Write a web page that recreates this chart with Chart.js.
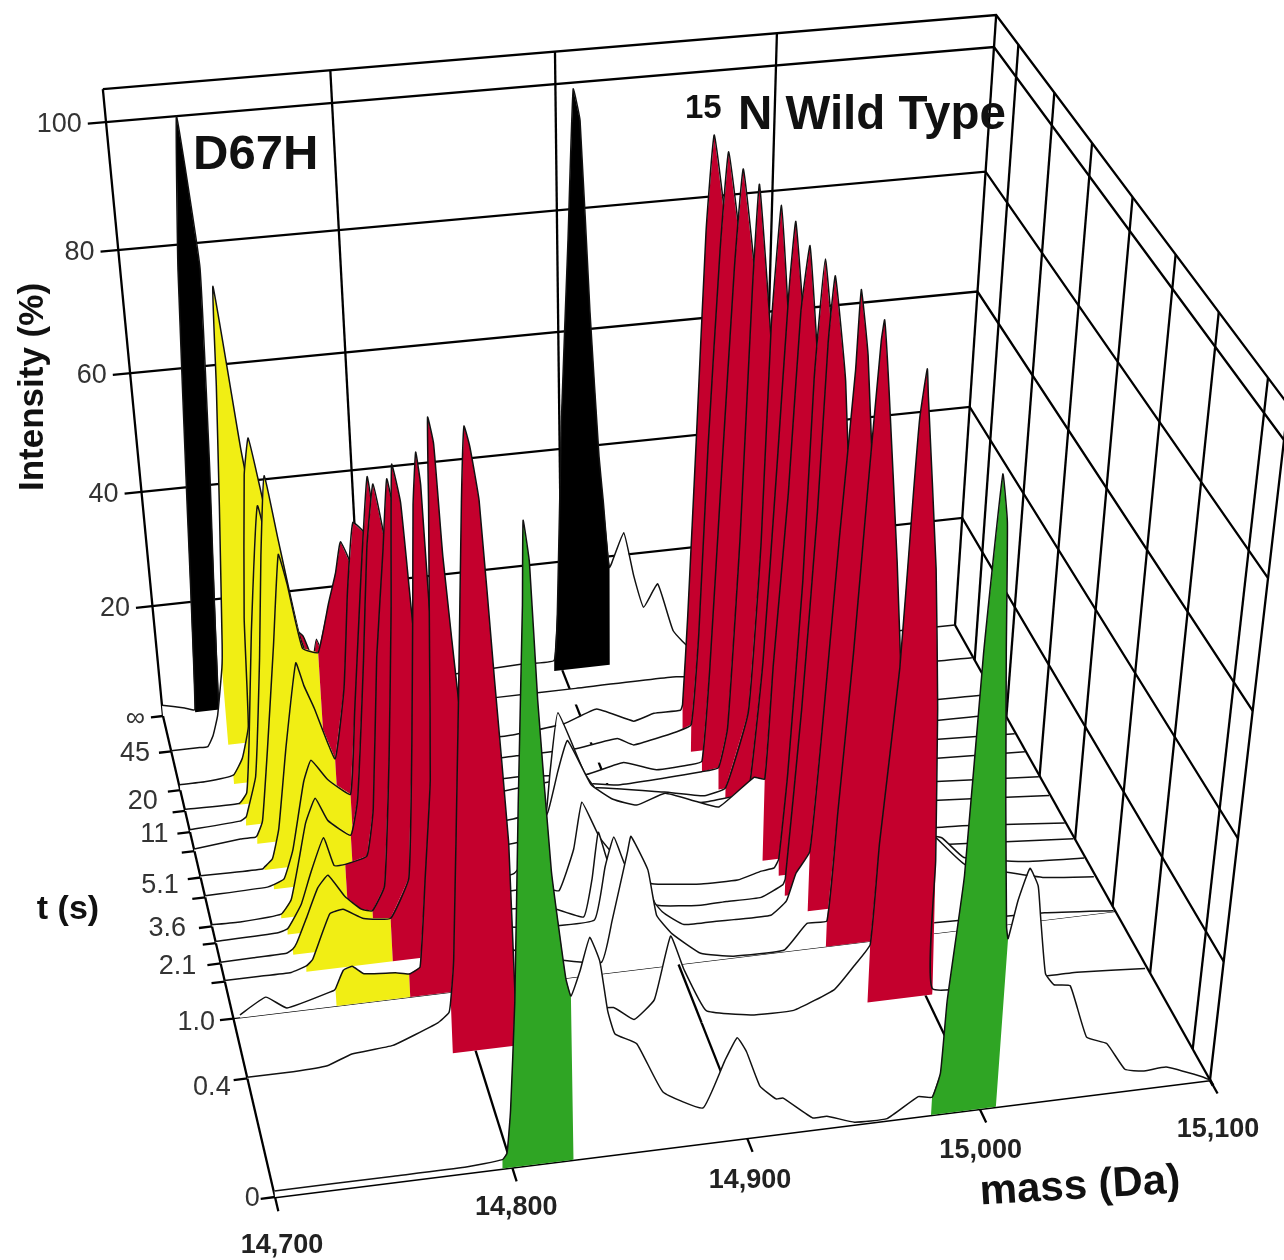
<!DOCTYPE html>
<html>
<head>
<meta charset="utf-8">
<title>D67H and 15N wild type</title>
<script src="https://cdn.jsdelivr.net/npm/chart.js@4/dist/chart.umd.min.js"></script>
<style>
  html, body { margin: 0; background: #fff; }
  canvas { display: block; }
</style>
</head>
<body>
<canvas id="myChart" width="1284" height="1260"></canvas>
<script>
// axis values
const massTicks = [14700, 14800, 14900, 15000, 15100];
const massLabels = ['14,700', '14,800', '14,900', '15,000', '15,100'];
const intensityTicks = [20, 40, 60, 80, 100];
const timeLabels = ['0', '0.4', '1.0', '', '2.1', '', '3.6', '', '5.1', '', '11', '', '20', '45', '∞'];
// position of every spectrum along the time axis, 0 = front, 1 = back
const traceDepth = [0, .216, .332, .406, .443, .485, .52, .582, .625, .683, .726, .774, .822, .914, 1];
const wallDepth = [.058, .206, .343, .487, .63, .77, .91];

// spectra as [mass, intensity], front to back
const trace0 = [[14700,1],[14750,1],[14780,1],[14796,1.5],[14798,2.5],[14800,9.5],[14803,27],[14806.5,58],[14810,87],[14811,99],[14813,93],[14815,73],[14819,47],[14824,30],[14826,27],[14830,31],[14834,36],[14838,32],[14841,24],[14844,20],[14853,18],[14864,9.5],[14881,6],[14890,13.5],[14895,17],[14899,14.5],[14905,8.5],[14912,6],[14915,6],[14928,2],[14934,2],[14946,.4],[14960,.3],[14973,3.4],[14979,3],[14982,7],[14983,19],[14987,39],[14989,73],[14992,99],[14995,92],[14998,73],[15002,50],[15006,30],[15007,28],[15010,34],[15014,39],[15018,36],[15020,31],[15024,21.5],[15028,19.5],[15035,19],[15044,10],[15053,8.5],[15062,3.7],[15070,3],[15080,3.2],[15096,.8],[15100,0]];
const trace1 = [[14700,.2],[14720,.2],[14735,.5],[14746,2],[14764,2.6],[14784,5.5],[14789,7],[14790,9],[14792,16],[14798,57],[14802,87],[14804,98],[14806,95],[14809,87],[14813,60],[14817,34],[14818,8],[14819,6],[14840,5],[14861,4.5],[14870,2],[14879,5],[14886,15.5],[14892,9.5],[14902,2],[14922,.3],[14941,.2],[14959,3],[14968,7],[14974,10],[14976,27],[14981,55],[14983,82],[14984,93],[14986,100],[14987,96],[14994,70],[14998,48],[15001,23],[15003,1],[15052,.8],[15068,.8],[15099,0]];
const trace2 = [[14703,.5],[14715,3],[14724,.7],[14745,2.7],[14746,3],[14750,6],[14754,6.5],[14759,5],[14773,4.5],[14779,4],[14784,5],[14788,20],[14792,36],[14794,57],[14796,79],[14797,92],[14799,88],[14801,71],[14806,45],[14812,22],[14820,8],[14830,5],[14865,2],[14870,9],[14877,20.5],[14878.5,23],[14886,17],[14890,9],[14897,5.5],[14910,1.5],[14925,.3],[14948,.3],[14958,4.5],[14967,4.5],[14970,23],[14974,49],[14977,74],[14980,97],[14981,100],[14984,90],[14991,63],[14996,41],[15002,16],[15006,2],[15010,2],[15067,1.3],[15099,.2]];
const trace3 = [[14700,.2],[14715,.2],[14730,.2],[14737,1],[14740,2],[14749,9.5],[14755,10],[14764,8],[14776,7.5],[14785,14],[14789,36],[14792,58],[14794,74],[14796,82],[14797.5,77],[14799,58],[14803,33],[14808,14],[14812,5],[14840,3],[14868,3],[14873,12],[14877,17],[14882,12],[14899,3],[14909,.3],[14924,.2],[14932,.1],[14949,.1],[14956,2.3],[14960,7],[14966,10.5],[14970,34],[14974,62.5],[14978,88],[14979,100],[14983,90],[14989,63],[14995,34],[15001,8],[15006,3],[15015,12],[15022,11],[15038,5],[15075,1],[15099,0]];
const trace4 = [[14700,.2],[14715,.3],[14730,.4],[14733,1],[14735,2],[14740,6],[14746,11],[14751,13],[14758,9],[14765,6.5],[14770,6],[14776,10],[14781,32],[14785,56],[14788,78],[14791,72],[14794,52],[14800,25],[14808,8],[14815,4],[14850,3],[14866,.5],[14870,7],[14873,15],[14877,10],[14884,5.5],[14900,1],[14920,.1],[14932,.2],[14948,.2],[14958,2],[14959,3],[14964,32],[14968,64],[14970,90],[14972,100],[14978,84],[14984,54],[14989,31],[14994,6],[15000,3],[15020,8],[15031,7],[15042,3],[15070,1],[15099,.3]];
const trace5 = [[14700,.3],[14728,.5],[14733,1],[14740,5],[14745,10],[14752,16],[14756,11],[14761,11],[14771,12],[14775,20],[14780,45],[14785,62],[14788,73],[14791,66],[14794,44],[14800,20],[14808,4],[14815,3],[14850,3],[14858,2],[14865,9],[14869,17],[14877,10.5],[14888,5],[14901,1.3],[14924,.2],[14941,.1],[14952,1.2],[14958,1.5],[14960,3],[14963,18],[14967,50],[14969,82],[14972,100],[14978,82],[14983,49],[14989,23],[14994,3],[15000,3],[15040,2],[15099,.3]];
const trace6 = [[14700,.3],[14713,.2],[14732,.7],[14737,3],[14742,10],[14746,16],[14751,20],[14756,16],[14766,13],[14770,19],[14776,42],[14780,60],[14784,70],[14789,58],[14794,33],[14800,9],[14808,3],[14840,3],[14856,13],[14861,20],[14865.5,25],[14876,17],[14886,14],[14897,12.5],[14910,14],[14924,12],[14935,10.5],[14951,15],[14956,14.5],[14958.5,34],[14963,62],[14966,90],[14969,100],[14974,82],[14980,51],[14986,24],[14991,5],[15000,3],[15050,2],[15099,.3]];
const trace7 = [[14700,.3],[14707,.3],[14729,.5],[14732,.8],[14737,1.6],[14742,6.5],[14749,18],[14753,21.6],[14760,18],[14770,15],[14774,29],[14780,51],[14785,67],[14788,56],[14794,30],[14800,5],[14810,3],[14840,3],[14858,4],[14862,15],[14866,25],[14878,14],[14887,9],[14898,7.5],[14915,6.5],[14936,6.5],[14950,7],[14955,8],[14960,30],[14964,63],[14967,90],[14969,100],[14975,80],[14981,51],[14986,24],[14990,4],[15000,3],[15040,2],[15099,.3]];
const trace8 = [[14700,.3],[14714,.2],[14729,.2],[14730,.5],[14734,1.8],[14738,7],[14744,21],[14751,35],[14754,31],[14758,27],[14766,18],[14772,30],[14776,46],[14780,57],[14785,55],[14792,26],[14798,5],[14810,3],[14850,4],[14880,8],[14919,5.5],[14938,4],[14948,5],[14958,18],[14962,47],[14964,82],[14967,100],[14972,80],[14978,47],[14984,21],[14988,4],[15000,3],[15099,.3]];
const trace9 = [[14700,.4],[14722,1.2],[14729,1.2],[14730,1.5],[14733,4],[14738,17],[14744,34],[14749,49],[14752,44],[14757,33],[14764,32],[14770,40],[14774,45],[14777,50],[14783,44],[14790,20],[14796,5],[14810,3],[14870,5],[14901,3],[14942,3.6],[14950,4],[14954,11],[14958,44],[14961,84],[14963,100],[14970,75],[14977,43],[14982,17],[14985,3],[15000,2],[15099,.3]];
const trace10 = [[14700,.4],[14724,.9],[14727,1.5],[14728,2.5],[14733,8.5],[14739,29],[14743,46],[14747,59],[14751,49],[14758,32],[14767,22],[14772,30],[14776,38],[14782,32],[14790,15],[14797,4],[14810,3],[14860,3],[14890,2],[14908,3.4],[14924,1.4],[14941,1.6],[14946,2],[14949,18],[14953,52],[14957,85],[14960,100],[14968,78],[14975,42],[14981,13],[14984,3],[15000,2],[15099,.3]];
const trace11 = [[14700,.3],[14726,.2],[14730,2],[14733,11],[14738,30],[14745,51],[14750,40],[14757,25],[14766,18],[14770,24],[14773,30],[14780,24],[14788,10],[14796,3],[14860,3],[14888,3],[14909,4],[14917,2.5],[14938,4],[14945,5],[14948,21],[14951,53],[14955,85],[14958,100],[14966,80],[14974,42],[14979,14],[14983,3],[15000,1],[15099,.3]];
const trace12 = [[14700,1],[14712,1],[14726,1.6],[14731,4.5],[14735,10],[14737,29],[14742,53],[14745,59],[14749,50],[14755,35],[14765,15],[14770,24],[14778,14],[14786,5],[14795,3],[14860,3],[14887,4],[14903,6],[14921,3],[14931,4],[14944,4],[14945,5],[14947,21],[14950,52],[14953,85],[14956,100],[14964,80],[14971,43],[14977,14],[14980,3],[15000,1],[15099,.3]];
const trace13 = [[14700,.1],[14713,.1],[14718,.1],[14721,2],[14724,5.5],[14728,14],[14729,18],[14733,42],[14736,62],[14738,78],[14745,51],[14751,34],[14760,21],[14768,18],[14775,10],[14785,5],[14800,3],[14860,3],[14900,3],[14950,3],[15000,1],[15099,.2]];
const trace14 = [[14700,2],[14711,1],[14716,.5],[14721,37.7],[14726,76],[14731,100],[14733,92],[14736,76],[14733,43],[14728,.5],[14735,1],[14800,1],[14880,2],[14896,2],[14898,12],[14901,45],[14905,75],[14908,99],[14911,94],[14915,63],[14919,38],[14921,30],[14924,18],[14931,24],[14936,16],[14941,10],[14948,14],[14956,5],[14966,1],[15000,.5],[15100,0]];
const traces = [trace0, trace1, trace2, trace3, trace4, trace5, trace6, trace7, trace8, trace9, trace10, trace11, trace12, trace13, trace14];

// coloured stretches of each spectrum: from mass, to mass, colour
const GREEN = '#2fa524', RED = '#c4002d', YELLOW = '#f1ee14', BLACK = '#000000';
const traceBands = [
    [[14796, 14826, GREEN], [14979, 15007, GREEN]],
    [[14790, 14819, RED], [14974, 15003, RED]],
    [[14746, 14779, YELLOW], [14779, 14820, RED], [14967, 15006, RED]],
    [[14737, 14776, YELLOW], [14776, 14812, RED], [14966, 15001, RED]],
    [[14733, 14770, YELLOW], [14770, 14815, RED], [14959, 14994, RED]],
    [[14733, 14761, YELLOW], [14761, 14808, RED], [14960, 14994, RED]],
    [[14732, 14766, YELLOW], [14766, 14808, RED], [14956, 14991, RED]],
    [[14732, 14770, YELLOW], [14770, 14800, RED], [14955, 14990, RED]],
    [[14730, 14766, YELLOW], [14766, 14798, RED], [14948, 14988, RED]],
    [[14730, 14764, YELLOW], [14764, 14796, RED], [14950, 14985, RED]],
    [[14727, 14767, YELLOW], [14767, 14797, RED], [14946, 14984, RED]],
    [[14726, 14766, YELLOW], [14766, 14796, RED], [14945, 14983, RED]],
    [[14726, 14765, YELLOW], [14765, 14795, RED], [14945, 14980, RED]],
    [[14728, 14760, YELLOW], [14760, 14785, RED]],
    [[14716, 14728, BLACK], [14896, 14924, BLACK]]
];

// corners of the box on screen: front left, front right, back right, back left
const floorCorners = [[275, 1197], [1210, 1080], [955, 625], [163, 716]];
const topCorners = [[222, 542], [1284, 440], [994, 47], [106, 122]];

function quadMap(p) {
    const dx1 = p[1][0] - p[2][0], dx2 = p[3][0] - p[2][0], sx = p[0][0] - p[1][0] + p[2][0] - p[3][0];
    const dy1 = p[1][1] - p[2][1], dy2 = p[3][1] - p[2][1], sy = p[0][1] - p[1][1] + p[2][1] - p[3][1];
    const det = dx1 * dy2 - dx2 * dy1;
    const g = (sx * dy2 - dx2 * sy) / det, h = (dx1 * sy - sx * dy1) / det;
    const a = p[1][0] - p[0][0] + g * p[1][0], b = p[3][0] - p[0][0] + h * p[3][0];
    const d = p[1][1] - p[0][1] + g * p[1][1], e = p[3][1] - p[0][1] + h * p[3][1];
    return (u, v) => {
        const w = g * u + h * v + 1;
        return [(a * u + b * v + p[0][0]) / w, (d * u + e * v + p[0][1]) / w];
    };
}
const floorMap = quadMap(floorCorners);
const topMap = quadMap(topCorners);

// mass, depth, intensity -> point on the plane of the chart
function project(mass, depth, intensity) {
    const u = (mass - 14700) / 400;
    const f = floorMap(u, depth), t = topMap(u, depth);
    const hh = intensity / 100;
    const k = hh / (hh + (1 - hh) * 1.1);
    return { x: f[0] + (t[0] - f[0]) * k, y: f[1] + (t[1] - f[1]) * k };
}

const datasets = [];
function addLine(points, width) {
    datasets.push({ data: points, showLine: true, borderColor: '#000', borderWidth: width, pointRadius: 0, fill: false, clip: false });
}
function addShape(points, color) {
    datasets.push({ data: points, showLine: true, borderWidth: 1, borderColor: 'rgba(0,0,0,0)', backgroundColor: color, pointRadius: 0, fill: 'shape', clip: false });
}

// walls and floor
const WALL = 2.3;
const TOP = 105;
intensityTicks.forEach(v => {
    addLine([project(14692, 1, v), project(15100, 1, v), project(15100, 0, v)], WALL);
});
addLine([project(14700, 1, TOP), project(15100, 1, TOP), project(15100, 0, TOP), project(15100, 0, 0)], WALL);
massTicks.forEach(m => {
    addLine([project(m, 1, 0), project(m, 1, TOP)], WALL);
    addLine([project(m, -0.025, 0), project(m, 1, 0)], WALL);
});
wallDepth.forEach(d => {
    addLine([project(15100, d, 0), project(15100, d, TOP)], WALL);
});
// the one line across the floor that shows, at the 1.0 s row
addLine([project(14700, traceDepth[2], 0), project(15100, traceDepth[2], 0)], 1.2);
addLine([project(14700, 0, 0), project(15100, 0, 0), project(15100, -0.01, 0)], 3);
traceDepth.forEach(d => {
    addLine([project(14694, d, 0), project(14700, d, 0)], WALL);
});

// spectra, back one first so the nearer ones cover it
for (let i = traces.length - 1; i >= 0; i--) {
    const w = traceDepth[i];
    const tr = traces[i];
    const curve = tr.map(p => project(p[0], w, p[1]));
    if (i === 0) {
        addLine([project(14900, traceDepth[1], 0), project(14900, traceDepth[2], 0)], WALL);
    }
    addShape([project(tr[0][0], w, 0), ...curve, project(tr[tr.length - 1][0], w, 0)], '#ffffff');
    traceBands[i].forEach(band => {
        const from = tr.findIndex(p => p[0] === band[0]);
        const to = tr.findIndex((p, n) => n > from && p[0] === band[1]);
        addShape([project(band[0], w, 0), ...curve.slice(from, to + 1), project(band[1], w, 0)], band[2]);
    });
    datasets.push({ data: curve, showLine: true, borderColor: '#111', borderWidth: 1.5, tension: 0.12, pointRadius: 0, fill: false, clip: false });
}
// chart.js paints the first dataset last, so the list has to go the other way round
datasets.reverse();

// text at fixed offsets from the ticks
const tLabelDrop = [0, 7, 2, 0, 2, 0, 1, 0, 7, 0, 1, 0, 10, 1, 1];
const tLabelShift = [2, 0, -2, 0, -8, 0, -10, 0, -6, 0, -6, 0, -7, -6, -3];
const massLabelDrop = [49, 40, 43, 42, 50];
const massLabelShift = [7, 4, 3, 1, 8];
const chartText = {
    id: 'chartText',
    afterDraw(chart) {
        const c = chart.ctx;
        const sx = chart.scales.x, sy = chart.scales.y;
        const put = (s, x, y, font, align, color, angle) => {
            c.save();
            c.translate(x, y);
            if (angle) c.rotate(angle);
            c.font = font;
            c.textAlign = align;
            c.textBaseline = 'middle';
            c.fillStyle = color;
            c.fillText(s, 0, 0);
            c.restore();
        };
        const tick = '27px "Liberation Sans"';
        const massFont = 'bold 27px "Liberation Sans"';
        intensityTicks.forEach(v => {
            const p = project(14692, 1, v);
            put(String(v), sx.getPixelForValue(p.x) - 6, sy.getPixelForValue(p.y) + 1, tick, 'right', '#333');
        });
        timeLabels.forEach((s, i) => {
            const p = project(14694, traceDepth[i], 0);
            put(s, sx.getPixelForValue(p.x) - 3 + tLabelShift[i], sy.getPixelForValue(p.y) + tLabelDrop[i], tick, 'right', '#333');
        });
        massLabels.forEach((s, i) => {
            const p = project(massTicks[i], 0, 0);
            put(s, sx.getPixelForValue(p.x) + massLabelShift[i], sy.getPixelForValue(p.y) + massLabelDrop[i], massFont, 'center', '#222');
        });
        put('D67H', 193, 155, 'bold 49px "Liberation Sans"', 'left', '#111');
        put('15', 685, 109, 'bold 33px "Liberation Sans"', 'left', '#111');
        put('N Wild Type', 738, 116, 'bold 47.5px "Liberation Sans"', 'left', '#111');
        put('Intensity (%)', 33, 387, 'bold 35px "Liberation Sans"', 'center', '#111', -Math.PI / 2);
        put('t (s)', 68, 910, 'bold 34px "Liberation Sans"', 'center', '#111');
        put('mass (Da)', 1080, 1187, 'bold 42px "Liberation Sans"', 'center', '#111', -0.06);
    }
};

new Chart(document.getElementById('myChart').getContext('2d'), {
    type: 'scatter',
    data: { datasets: datasets },
    options: {
        responsive: false,
        animation: false,
        layout: { padding: 0 },
        plugins: { legend: { display: false }, tooltip: { enabled: false } },
        scales: {
            x: { type: 'linear', min: 0, max: 1284, display: false },
            y: { type: 'linear', min: 0, max: 1260, reverse: true, display: false }
        }
    },
    plugins: [chartText]
});
</script>
</body>
</html>
